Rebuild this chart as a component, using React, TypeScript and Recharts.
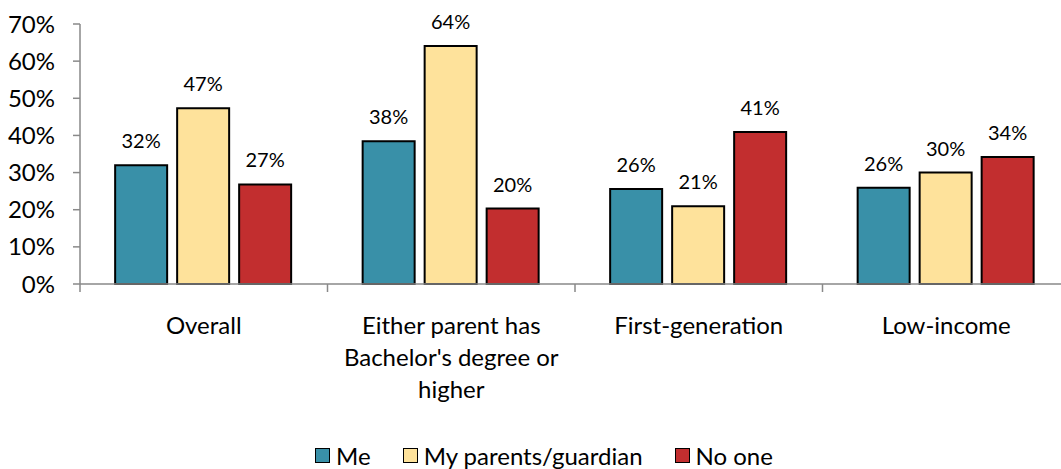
import React from 'react';
import { BarChart, Bar, XAxis, YAxis, Legend, LabelList } from 'recharts';

const categories = ['Overall', "Either parent has Bachelor's degree or higher", 'First-generation', 'Low-income'];
const categoryLines = [['Overall'], ['Either parent has', "Bachelor's degree or", 'higher'], ['First-generation'], ['Low-income']];
const meValues = [32.0, 38.4, 25.6, 25.9];
const parentsValues = [47.3, 64.1, 20.9, 30.0];
const noOneValues = [26.8, 20.3, 40.9, 34.2];
const yTicks = [0, 10, 20, 30, 40, 50, 60, 70];

const series = [
  { key: 'me', name: 'Me', color: '#3990A8' },
  { key: 'parents', name: 'My parents/guardian', color: '#FEE29B' },
  { key: 'noOne', name: 'No one', color: '#C22E2F' },
];

const data = categories.map((c, i) => ({
  category: c,
  me: meValues[i],
  parents: parentsValues[i],
  noOne: noOneValues[i],
}));

const FONT = 'Lato, "Open Sans", sans-serif';
const CHART_W = 1070;
const CHART_H = 469;
const Y_AXIS_W = 80;
const BAND = (CHART_W - Y_AXIS_W) / categories.length;
const AXIS_GREY = '#898989';

// eslint-disable-next-line @typescript-eslint/no-explicit-any
const CategoryTick = (props: any) => {
  const { x, y, payload } = props;
  const lines = categoryLines[payload.index] || [payload.value];
  return (
    <g>
      <line x1={x - BAND / 2} x2={x - BAND / 2} y1={y} y2={y + 8} stroke={AXIS_GREY} strokeWidth={1.5} />
      <text x={x} y={y + 50} textAnchor="middle" fontSize={24} fill="#000" fontFamily={FONT}>
        {lines.map((l: string, i: number) => (
          <tspan key={i} x={x} dy={i === 0 ? 0 : 32}>{l}</tspan>
        ))}
      </text>
    </g>
  );
};

const LegendContent = () => (
  <div style={{ display: 'flex', justifyContent: 'center', paddingLeft: 18, paddingTop: 2, fontFamily: FONT, fontSize: 24, color: '#000' }}>
    {series.map((s) => (
      <div key={s.key} style={{ display: 'flex', alignItems: 'center', margin: '0 16px' }}>
        <span style={{ width: 13, height: 13, background: s.color, border: '1.5px solid #000', marginRight: 6, display: 'inline-block' }} />
        <span>{s.name}</span>
      </div>
    ))}
  </div>
);

export default function App() {
  return (
    <div style={{ position: 'absolute', left: 0, top: 0, width: 1061, height: 469, overflow: 'hidden', background: '#fff' }}>
      <BarChart
        width={CHART_W}
        height={CHART_H}
        data={data}
        margin={{ top: 24, right: 0, bottom: 0, left: 0 }}
        barCategoryGap="14.2%"
        barGap={10}
      >
        <XAxis
          dataKey="category"
          height={155}
          axisLine={{ stroke: AXIS_GREY, strokeWidth: 1.5 }}
          tickLine={false}
          tickSize={0}
          tickMargin={0}
          interval={0}
          tick={<CategoryTick />}
        />
        <YAxis
          width={Y_AXIS_W}
          domain={[0, 70]}
          ticks={yTicks}
          interval={0}
          tickFormatter={(v: number) => `${v}%`}
          axisLine={{ stroke: AXIS_GREY, strokeWidth: 1.5 }}
          tickLine={{ stroke: AXIS_GREY, strokeWidth: 1.5 }}
          tickSize={7}
          tickMargin={18}
          tick={{ fill: '#000', fontSize: 24, fontFamily: FONT }}
        />
        <Legend verticalAlign="bottom" height={30} content={<LegendContent />} />
        {series.map((s) => (
          <Bar key={s.key} dataKey={s.key} name={s.name} fill={s.color} stroke="#000" strokeWidth={2} isAnimationActive={false}>
            <LabelList
              dataKey={s.key}
              position="top"
              offset={17}
              formatter={(v: number) => `${Math.round(v)}%`}
              style={{ fill: '#000', fontSize: 20, fontFamily: FONT }}
            />
          </Bar>
        ))}
      </BarChart>
    </div>
  );
}
